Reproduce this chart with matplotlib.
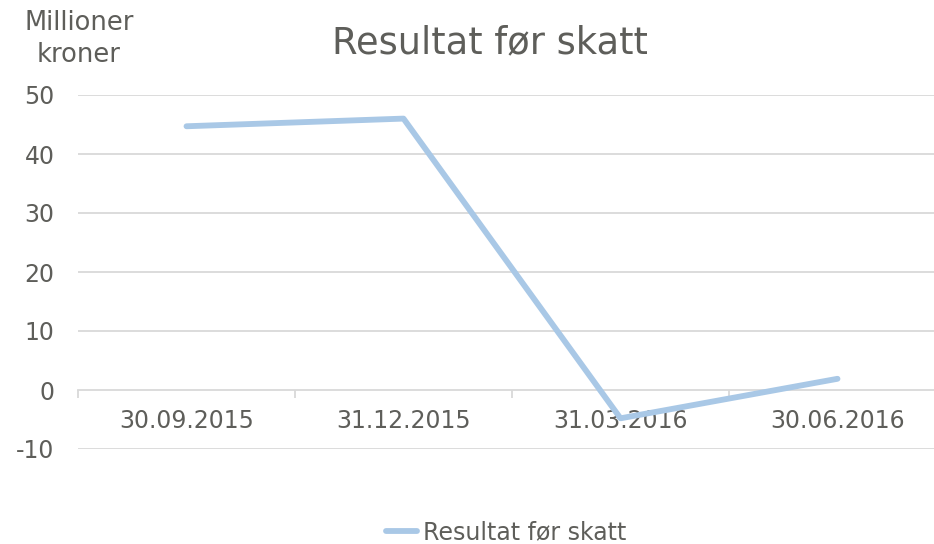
import matplotlib
matplotlib.use("Agg")
import matplotlib.pyplot as plt
from matplotlib.ticker import FixedLocator

categories = ["30.09.2015", "31.12.2015", "31.03.2016", "30.06.2016"]
values = [44.7, 46.0, -4.8, 1.9]
yticks = [-10, 0, 10, 20, 30, 40, 50]
series_name = "Resultat før skatt"

W, H = 934, 544
plt.rcParams['font.family'] = ['DejaVu Sans']
fig = plt.figure(figsize=(W / 100, H / 100), dpi=100)
txt = "#5e5e5a"
grid = "#D9D9D9"
blue = "#A9C8E6"

left, right, top, bottom = 78, 934, 95, 449
ax = fig.add_axes([left / W, 1 - bottom / H, (right - left) / W, (bottom - top) / H])
x = list(range(len(categories)))
line, = ax.plot(x, values, color=blue, lw=4.2, solid_capstyle='round', zorder=3)

cat_w = 217
ax.set_xlim(-0.5, -0.5 + (right - left) / cat_w)
ax.set_ylim(-10, 50)
ax.set_yticks(yticks)
ax.set_yticklabels([str(v) for v in yticks])
for s in ['top', 'right', 'left']:
    ax.spines[s].set_visible(False)
ax.spines['bottom'].set_position(('data', 0))
ax.spines['bottom'].set_color(grid)
ax.spines['bottom'].set_linewidth(1.3)
ax.set_xticks(x)
ax.set_xticklabels(categories)
ax.xaxis.set_minor_locator(FixedLocator([i - 0.5 for i in range(len(categories) + 1)]))
ax.tick_params(axis='x', which='major', length=0, pad=14, labelsize=17, labelcolor=txt)
ax.tick_params(axis='x', which='minor', length=6, width=1.3, color=grid, direction='out')
ax.tick_params(axis='y', length=0, pad=17, labelsize=17, labelcolor=txt)
for v in yticks:
    if v != 0:
        ax.axhline(v, color=grid, lw=1.3, zorder=1)

fig.text(79 / W, 1 - 39 / H, "Millioner\nkroner", ha='center', va='center',
         fontsize=18.5, color=txt, linespacing=1.3)
fig.text(490 / W, 1 - 43 / H, "Resultat før skatt", ha='center', va='center',
         fontsize=26.5, color=txt)

leg = fig.legend([line], [series_name], loc='center', bbox_to_anchor=(506 / W, 1 - 532 / H),
                 frameon=False, fontsize=17, labelcolor=txt, handlelength=1.3,
                 handletextpad=0.25, borderpad=0)

fig.savefig("out.png", dpi=100)
